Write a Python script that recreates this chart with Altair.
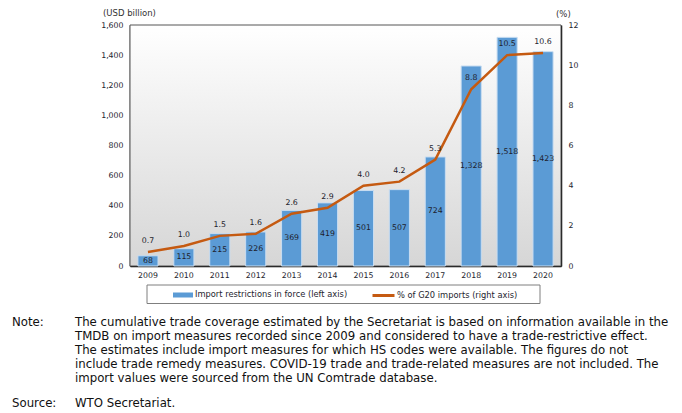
import altair as alt
import pandas as pd

years = ["2009", "2010", "2011", "2012", "2013", "2014", "2015", "2016", "2017", "2018", "2019", "2020"]
restrictions = [68, 115, 215, 226, 369, 419, 501, 507, 724, 1328, 1518, 1423]
share = [0.7, 1.0, 1.5, 1.6, 2.6, 2.9, 4.0, 4.2, 5.3, 8.8, 10.5, 10.6]
left_ticks = [0, 200, 400, 600, 800, 1000, 1200, 1400, 1600]
right_ticks = [0, 2, 4, 6, 8, 10, 12]
bar_series = "Import restrictions in force (left axis)"
line_series = "% of G20 imports (right axis)"
note_lines = [
    "The cumulative trade coverage estimated by the Secretariat is based on information available in the",
    "TMDB on import measures recorded since 2009 and considered to have a trade-restrictive effect.",
    "The estimates include import measures for which HS codes were available. The figures do not",
    "include trade remedy measures. COVID-19 trade and trade-related measures are not included. The",
    "import values were sourced from the UN Comtrade database.",
]

df = pd.DataFrame({"year": years, "restrictions": restrictions, "share": share})

W, H = 431, 241
FONT = "DejaVu Sans"
NOTE_FONT = "DejaVu Sans"
NFS = 11.75
TXT = "#1e1e2e"
FS = 7.8

base = alt.Chart(df)

x = alt.X(
    "year:N", title=None,
    scale=alt.Scale(paddingInner=0.44, paddingOuter=0.22),
    axis=alt.Axis(labelAngle=0, labelFont=FONT, labelFontSize=FS, labelColor=TXT,
                  labelPadding=5, ticks=False, domainColor="black", domainWidth=1.5),
)

one = alt.Data(values=[{}])

bg = alt.Chart(one).mark_rect(
    fill=alt.Gradient(gradient="linear",
                      stops=[alt.GradientStop(color="#ffffff", offset=0),
                             alt.GradientStop(color="#d6d6d6", offset=1)],
                      x1=0, x2=0, y1=0, y2=1),
    stroke="#555555", strokeWidth=1,
).encode(x=alt.value(0), x2=alt.value(W), y=alt.value(0), y2=alt.value(H))

bars = base.transform_calculate(s1=f"'{bar_series}'").mark_bar(
    stroke="#c9ddf1", strokeWidth=1
).encode(
    x=x,
    y=alt.Y("restrictions:Q", title=None,
            scale=alt.Scale(domain=[0, 1600], nice=False),
            axis=alt.Axis(values=left_ticks, format=",d", labelFont=FONT, labelFontSize=FS,
                          labelColor=TXT, ticks=False, labelPadding=7, grid=False,
                          domainColor="black", domainWidth=1.5)),
    color=alt.Color("s1:N", scale=alt.Scale(range=["#5b9bd5"]),
                    legend=alt.Legend(orient="none", legendX=43, legendY=260, title=None,
                                      padding=0, symbolType="M-1,-0.25H1V0.25H-1Z",
                                      symbolSize=400, symbolStrokeWidth=0, labelOffset=2,
                                      labelFont=FONT, labelFontSize=8.3, labelColor=TXT)),
)

bar_text = base.transform_calculate(half="datum.restrictions / 2").mark_text(
    font=FONT, fontSize=FS, color=TXT
).encode(
    x=x,
    y=alt.Y("half:Q", scale=alt.Scale(domain=[0, 1600], nice=False), axis=None),
    text=alt.Text("restrictions:Q", format=","),
)

line = base.transform_calculate(s2=f"'{line_series}'").mark_line(strokeWidth=2.5).encode(
    x=x,
    y=alt.Y("share:Q", title=None,
            scale=alt.Scale(domain=[0, 12], nice=False),
            axis=alt.Axis(orient="right", values=right_ticks, labelFont=FONT, labelFontSize=FS,
                          labelColor=TXT, ticks=False, labelPadding=7, grid=False,
                          domainColor="black", domainWidth=1.5)),
    stroke=alt.Stroke("s2:N", scale=alt.Scale(range=["#c55a11"]),
                      legend=alt.Legend(orient="none", legendX=241, legendY=258, title=None,
                                        padding=0, symbolType="stroke", symbolSize=484,
                                        symbolStrokeWidth=3, labelOffset=1,
                                        labelFont=FONT, labelFontSize=8.3, labelColor=TXT)),
)

line_text = base.mark_text(font=FONT, fontSize=FS, color=TXT, dy=-11).encode(
    x=x,
    y=alt.Y("share:Q", scale=alt.Scale(domain=[0, 12], nice=False), axis=None),
    text=alt.Text("share:Q", format=".1f"),
)

usd = alt.Chart(one).mark_text(font=FONT, fontSize=8.5, color="#333333", align="left").encode(
    x=alt.value(-27), y=alt.value(-12), text=alt.value("(USD billion)"))
pct = alt.Chart(one).mark_text(font=FONT, fontSize=8.5, color="#333333", align="left").encode(
    x=alt.value(426), y=alt.value(-11), text=alt.value("(%)"))
legend_box = alt.Chart(one).mark_rect(fill=None, stroke="#7f7f7f", strokeWidth=1).encode(
    x=alt.value(17), x2=alt.value(410), y=alt.value(260), y2=alt.value(278.5))

def note(txt, xv, yv):
    return alt.Chart(one).mark_text(font=NOTE_FONT, fontSize=NFS, color="#111111", align="left",
                                    baseline="alphabetic", lineHeight=14).encode(
        x=alt.value(xv), y=alt.value(yv), text=alt.value(txt))

note_lbl = note("Note:", -118, 301)
note_txt = note(note_lines, -55, 301)
src_lbl = note("Source:", -118, 381.5)
src_txt = note("WTO Secretariat.", -55, 381.5)

chart = alt.layer(
    bg, bars, bar_text, line, line_text, usd, pct, legend_box,
    note_lbl, note_txt, src_lbl, src_txt,
).resolve_scale(y="independent").properties(
    width=W, height=H,
    padding={"left": 122, "top": 17, "right": 113, "bottom": 144},
    autosize=alt.AutoSizeParams(type="none"),
).configure_view(stroke=None)

chart.save("out.html", embed_options={"renderer": "svg", "actions": False})
